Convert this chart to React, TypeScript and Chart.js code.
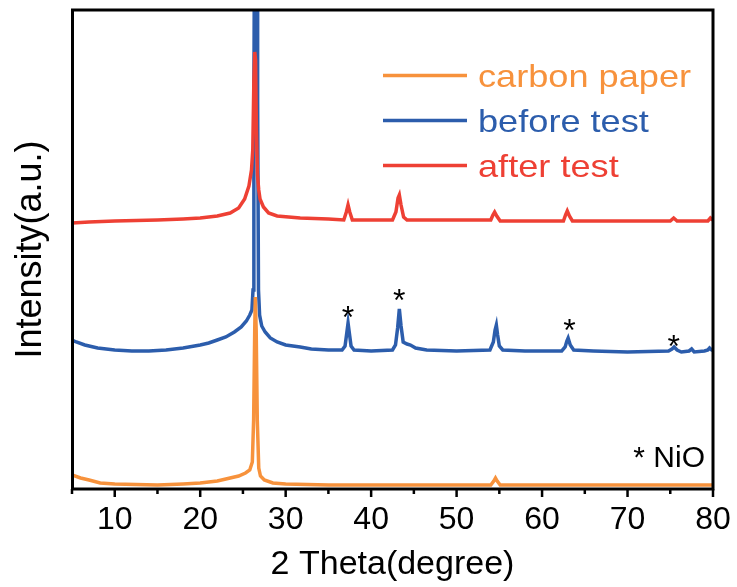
import React, { useEffect, useRef } from "react";
import { Chart, registerables } from "chart.js";

Chart.register(...registerables);

// 2θ (degree) and intensity (a.u., stacked with offsets) for each pattern
const carbonX = [5, 6, 7, 8.3, 10, 15, 18, 20, 22, 23.5, 24.5, 25.3, 25.8, 26.1, 26.25, 26.38, 26.45, 26.55, 26.68, 26.85, 27.05, 27.5, 28.5, 30, 35, 40, 45, 54, 54.35, 54.55, 54.75, 55.1, 60, 70, 80];
const carbonY = [14, 11, 9, 6, 5, 4, 5, 6, 8, 11, 13, 16, 19, 27, 69, 159, 192, 159, 69, 21, 13, 9, 6, 5, 4, 4, 4, 4, 8, 11, 8, 4, 4, 4, 4];

const beforeX = [5, 5.5, 6.5, 8, 10, 12, 14, 16, 18, 20, 21, 22, 23, 24, 24.8, 25.4, 25.8, 26.05, 26.18, 26.28, 26.35, 26.5, 26.65, 26.72, 26.82, 26.95, 27.2, 27.6, 28.2, 29, 30, 31.7, 33, 35, 36.6, 36.95, 37.15, 37.3, 37.45, 37.65, 38, 40, 42.5, 42.85, 43.1, 43.3, 43.5, 43.75, 44.2, 44.6, 45.2, 46.5, 50, 53.9, 54.3, 54.5, 54.65, 54.8, 55.0, 55.4, 58, 62.3, 62.7, 62.9, 63.05, 63.3, 63.7, 66, 70, 74.8, 75.2, 75.45, 75.8, 76.3, 77.2, 77.5, 77.8, 79, 79.4, 79.6, 79.85, 80];
const beforeY = [149, 147, 144, 141, 139, 138, 138, 139, 141, 144, 146, 149, 152, 157, 162, 168, 174, 179, 199, 389, 549, 689, 549, 389, 199, 174, 163, 157, 151, 147, 144, 142, 140, 139, 139, 143, 156, 166, 156, 143, 139, 138, 139, 144, 161, 180, 163, 147, 145, 144, 141, 139, 138, 139, 147, 159, 164, 154, 143, 139, 138, 138, 142, 148, 151, 144, 139, 138, 137, 138, 140, 142, 139, 137, 138, 140, 137, 138, 139, 141, 139, 139];

const afterX = [5, 7, 10, 15, 18, 20, 22, 23.5, 24.5, 25.2, 25.7, 26.0, 26.15, 26.28, 26.38, 26.48, 26.58, 26.7, 26.85, 27.0, 27.4, 28, 29, 31.7, 35, 36.8, 37.1, 37.3, 37.5, 37.8, 42.5, 42.9, 43.15, 43.3, 43.5, 43.8, 44.2, 54, 54.25, 54.45, 54.7, 55.1, 62.5, 62.75, 62.95, 63.2, 63.55, 75, 75.4, 75.8, 79.4, 79.7, 80];
const afterY = [266, 267, 268, 269, 270, 271, 273, 276, 281, 290, 303, 319, 339, 409, 437, 429, 359, 314, 299, 290, 282, 276, 273, 271, 270, 269, 277, 284, 277, 269, 269, 277, 291, 294, 284, 272, 269, 269, 274, 277, 273, 268, 268, 274, 278, 273, 268, 268, 271, 268, 268, 271, 269];

// NiO reflections marked with "*"
const nioMarkX = [37.3, 43.3, 63.2, 75.4];
const nioMarkY = [177, 194, 164, 148];

const xTickValues = [10, 20, 30, 40, 50, 60, 70, 80];
const xMin = 5;
const xMax = 80;
const yMin = 0;
const yMax = 479;

const seriesLabels = ["carbon paper", "before test", "after test"];
const seriesColors = ["#F7923C", "#2C5DAC", "#EE4034"];

const FONT = '"Liberation Sans", Arial, Helvetica, sans-serif';

const toPoints = (xs: number[], ys: number[]) => xs.map((x, i) => ({ x, y: ys[i] }));

const framePlugin = {
  id: "frameAndTicks",
  afterDatasetsDraw(chart: any) {
    const { ctx, chartArea } = chart;
    const xs = chart.scales.x;
    ctx.save();
    ctx.strokeStyle = "#000";
    ctx.lineWidth = 3;
    ctx.strokeRect(chartArea.left + 0.5, chartArea.top, chartArea.right - chartArea.left - 0.5, chartArea.bottom - chartArea.top);
    ctx.lineWidth = 2.5;
    for (let v = xMin; v <= xMax; v += 5) {
      const px = xs.getPixelForValue(v);
      const len = xTickValues.includes(v) ? 8 : 5;
      ctx.beginPath();
      ctx.moveTo(px, chartArea.bottom);
      ctx.lineTo(px, chartArea.bottom + len);
      ctx.stroke();
    }
    ctx.restore();
  },
};

const annotationPlugin = {
  id: "annotations",
  afterDraw(chart: any) {
    const { ctx } = chart;
    const xs = chart.scales.x;
    const ys = chart.scales.y;
    ctx.save();
    ctx.fillStyle = "#000";
    ctx.font = `32px ${FONT}`;
    ctx.textAlign = "center";
    ctx.textBaseline = "alphabetic";
    const m = ctx.measureText("*");
    const off = (m.actualBoundingBoxAscent - m.actualBoundingBoxDescent) / 2;
    nioMarkX.forEach((x, i) => {
      ctx.fillText("*", xs.getPixelForValue(x), ys.getPixelForValue(nioMarkY[i]) + off);
    });
    ctx.font = `30px ${FONT}`;
    ctx.textAlign = "right";
    ctx.fillText("* NiO", 705, 467);

    // legend
    ctx.font = `32px ${FONT}`;
    ctx.textAlign = "left";
    chart.data.datasets.forEach((ds: any, i: number) => {
      const base = 87 + i * 45;
      ctx.strokeStyle = ds.borderColor;
      ctx.lineWidth = 3.5;
      ctx.beginPath();
      ctx.moveTo(383, base - 11.5);
      ctx.lineTo(467, base - 11.5);
      ctx.stroke();
      ctx.fillStyle = ds.borderColor;
      ctx.save();
      ctx.translate(478, base);
      ctx.scale(1.13, 1);
      ctx.fillText(ds.label, 0, 0);
      ctx.restore();
    });
    ctx.restore();
  },
};

export default function App() {
  const ref = useRef<HTMLCanvasElement | null>(null);

  useEffect(() => {
    if (!ref.current) return;
    const chart = new Chart(ref.current, {
      type: "line",
      data: {
        datasets: [
          {
            label: seriesLabels[0],
            data: toPoints(carbonX, carbonY),
            borderColor: seriesColors[0],
            backgroundColor: seriesColors[0],
            borderWidth: 3.5,
            pointRadius: 0,
            order: 1,
          },
          {
            label: seriesLabels[1],
            data: toPoints(beforeX, beforeY),
            borderColor: seriesColors[1],
            backgroundColor: seriesColors[1],
            borderWidth: 3.5,
            pointRadius: 0,
            order: 3,
          },
          {
            label: seriesLabels[2],
            data: toPoints(afterX, afterY),
            borderColor: seriesColors[2],
            backgroundColor: seriesColors[2],
            borderWidth: 3.5,
            pointRadius: 0,
            order: 2,
          },
        ],
      },
      options: {
        animation: false,
        responsive: false,
        maintainAspectRatio: false,
        layout: { padding: { top: 10, right: 24, left: 0, bottom: 0 } },
        plugins: { legend: { display: false }, tooltip: { enabled: false } },
        elements: { line: { tension: 0 } },
        scales: {
          x: {
            type: "linear",
            min: xMin,
            max: xMax,
            afterBuildTicks: (scale: any) => {
              scale.ticks = xTickValues.map((v) => ({ value: v }));
            },
            afterFit: (scale: any) => {
              scale.height = 98;
              scale.paddingLeft = 0;
              scale.paddingRight = 0;
            },
            grid: { display: false, drawTicks: false },
            border: { display: false },
            ticks: {
              color: "#000",
              font: { family: FONT, size: 32 },
              padding: 12,
              maxRotation: 0,
              autoSkip: false,
            },
            title: {
              display: true,
              text: "2 Theta(degree)",
              color: "#000",
              font: { family: FONT, size: 34 },
              padding: { top: 0, bottom: 1.5 },
            },
          },
          y: {
            type: "linear",
            min: yMin,
            max: yMax,
            afterFit: (scale: any) => {
              scale.width = 72;
              scale.paddingTop = 0;
              scale.paddingBottom = 0;
            },
            grid: { display: false, drawTicks: false },
            border: { display: false },
            ticks: { display: false },
            title: {
              display: true,
              text: "Intensity(a.u.)",
              color: "#000",
              font: { family: FONT, size: 36 },
              padding: { top: 9, bottom: 0 },
            },
          },
        },
      },
      plugins: [framePlugin, annotationPlugin],
    });
    return () => chart.destroy();
  }, []);

  return (
    <div style={{ position: "absolute", left: 0, top: 0, width: 737, height: 587, background: "#fff" }}>
      <canvas ref={ref} width={737} height={587} style={{ display: "block" }} />
    </div>
  );
}
